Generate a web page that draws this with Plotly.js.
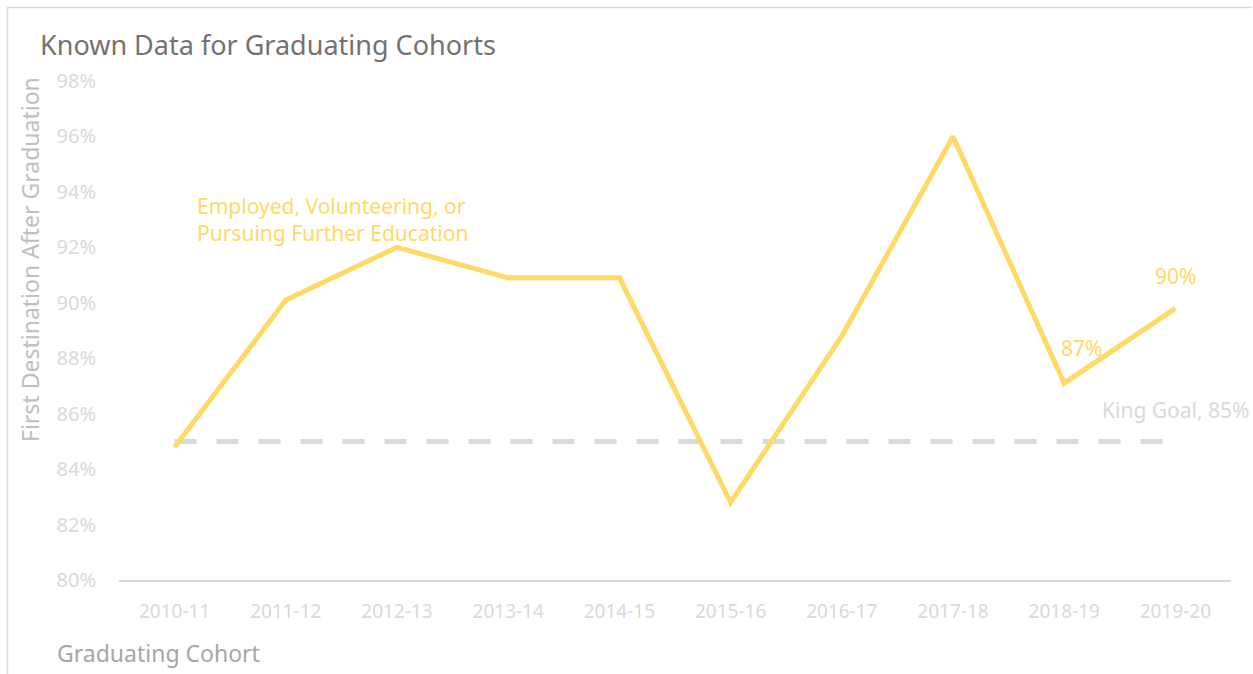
<!DOCTYPE html>
<html>
<head>
<meta charset="utf-8">
<script src="https://cdn.plot.ly/plotly-3.0.1.min.js"></script>
<style>
html,body{margin:0;padding:0;background:#fff;}
#chart{width:1253px;height:674px;}
</style>
</head>
<body>
<div id="chart"></div>
<script>
const cohorts = ["2010-11","2011-12","2012-13","2013-14","2014-15","2015-16","2016-17","2017-18","2018-19","2019-20"];
const firstDestination = [84.8, 90.1, 92.0, 90.9, 90.9, 82.8, 88.8, 96.0, 87.1, 89.8];
const goalValue = 85;
const goal = cohorts.map(() => goalValue);
const yTicks = [80, 82, 84, 86, 88, 90, 92, 94, 96, 98];
const yTickText = yTicks.map(v => v + "%");

const FONT = "Noto Sans, Open Sans, sans-serif";
const YELLOW = "#FFD966";
const LIGHT = "#D9D9D9";

const traces = [
  {
    x: cohorts, y: goal, type: "scatter", mode: "lines",
    line: {color: LIGHT, width: 5, dash: "22px,20px"},
    hoverinfo: "skip", showlegend: false
  },
  {
    x: cohorts, y: firstDestination, type: "scatter", mode: "lines",
    line: {color: YELLOW, width: 5},
    showlegend: false
  }
];

const n = cohorts.length;
const layout = {
  width: 1253, height: 674,
  margin: {l: 119, r: 22, t: 81, b: 94},
  paper_bgcolor: "#ffffff", plot_bgcolor: "#ffffff",
  font: {family: FONT, color: LIGHT},
  showlegend: false,
  xaxis: {
    type: "category", range: [-0.5, n - 0.5],
    showgrid: false, zeroline: false,
    showline: true, linecolor: LIGHT, linewidth: 2,
    ticks: "", ticklabelstandoff: 13,
    tickfont: {family: FONT, size: 19, color: LIGHT},
    fixedrange: true
  },
  yaxis: {
    range: [80, 98], tickvals: yTicks, ticktext: yTickText,
    showgrid: false, zeroline: false, showline: false,
    ticks: "", ticklabelstandoff: 22,
    tickfont: {family: FONT, size: 20, color: LIGHT},
    fixedrange: true
  },
  annotations: [
    {text: "Known Data for Graduating Cohorts", xref: "paper", yref: "paper",
     x: (38 - 119) / 1112, y: (580 - 45) / 499, xanchor: "left", yanchor: "middle",
     showarrow: false, font: {family: FONT, size: 27, color: "#767171"}},
    {text: "First Destination After Graduation", xref: "paper", yref: "paper",
     x: (30 - 119) / 1112, y: (580 - 260) / 499, xanchor: "center", yanchor: "middle",
     textangle: -90, showarrow: false, font: {family: FONT, size: 23, color: "#BFBFBF"}},
    {text: "Graduating Cohort", xref: "paper", yref: "paper",
     x: (55 - 119) / 1112, y: (580 - 653) / 499, xanchor: "left", yanchor: "middle",
     showarrow: false, font: {family: FONT, size: 23, color: "#A6A6A6"}},
    {text: "Employed, Volunteering, or<br>Pursuing Further Education", xref: "paper", yref: "paper",
     x: (195 - 119) / 1112, y: (580 - 219) / 499, xanchor: "left", yanchor: "middle", align: "left",
     showarrow: false, font: {family: FONT, size: 21, color: YELLOW}},
    {text: Math.round(firstDestination[8]) + "%", xref: "x", yref: "y",
     x: cohorts[8], y: firstDestination[8], xshift: 17, yshift: 35,
     showarrow: false, font: {family: FONT, size: 21, color: YELLOW}},
    {text: Math.round(firstDestination[9]) + "%", xref: "x", yref: "y",
     x: cohorts[9], y: firstDestination[9], yshift: 32,
     showarrow: false, font: {family: FONT, size: 21, color: YELLOW}},
    {text: "King Goal, " + goalValue + "%", xref: "paper", yref: "y",
     x: 1.0, y: goalValue, xanchor: "left", xshift: -131, yshift: 31,
     showarrow: false, font: {family: FONT, size: 21, color: "#D9D9D9"}}
  ],
  shapes: [
    {type: "line", xref: "paper", yref: "paper",
     x0: (7 - 119) / 1112, x1: (1252 - 119) / 1112, y0: (580 - 7.5) / 499, y1: (580 - 7.5) / 499,
     line: {color: LIGHT, width: 1.5}},
    {type: "line", xref: "paper", yref: "paper",
     x0: (7.5 - 119) / 1112, x1: (7.5 - 119) / 1112, y0: (580 - 7) / 499, y1: (580 - 674) / 499,
     line: {color: LIGHT, width: 1.5}}
  ]
};

Plotly.newPlot("chart", traces, layout, {displayModeBar: false, responsive: false});
</script>
</body>
</html>
